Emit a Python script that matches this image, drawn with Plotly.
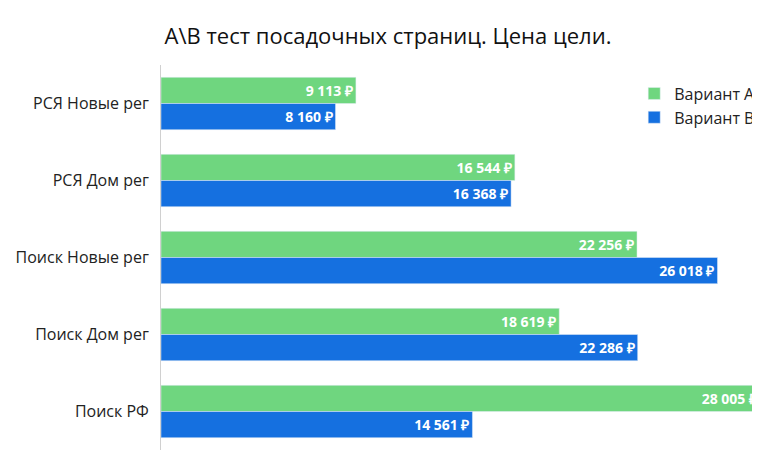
import plotly.graph_objects as go

categories = ["РСЯ Новые рег", "РСЯ Дом рег", "Поиск Новые рег", "Поиск Дом рег", "Поиск РФ"]
variant_a = [9113, 16544, 22256, 18619, 28005]
variant_b = [8160, 16368, 26018, 22286, 14561]


def rub(v):
    return "<b>" + f"{v:,}".replace(",", " ") + " ₽</b>"


fig = go.Figure()
fig.add_trace(go.Bar(y=categories, x=variant_a, name="Вариант А", orientation="h",
                     marker_color="#6fd67f", text=[rub(v) for v in variant_a],
                     textposition="inside", insidetextanchor="end",
                     textfont=dict(color="white", size=14, family="Open Sans")))
fig.add_trace(go.Bar(y=categories, x=variant_b, name="Вариант В", orientation="h",
                     marker_color="#1570e0", text=[rub(v) for v in variant_b],
                     textposition="inside", insidetextanchor="end",
                     textfont=dict(color="white", size=14, family="Open Sans")))

fig.update_layout(
    width=760, height=461,
    font=dict(family="Open Sans", size=16, color="#222"),
    title=dict(text="А\\В тест посадочных страниц. Цена цели.", x=0.5, xanchor="center",
               y=0.955, font=dict(size=22, color="#111")),
    barmode="group", bargap=0.32, bargroupgap=0,
    margin=dict(l=153, r=8, t=57, b=19),
    plot_bgcolor="white", paper_bgcolor="white",
    uniformtext=dict(minsize=10, mode="show"),
    legend=dict(x=0.79, y=0.97, xanchor="left", yanchor="top", traceorder="normal",
                font=dict(size=16), bgcolor="rgba(0,0,0,0)", tracegroupgap=12),
)
fig.update_yaxes(autorange="reversed", showline=True, linecolor="#d0d0d0", linewidth=1,
                 ticks="outside", ticklen=8, tickcolor="white", tickfont=dict(size=16),
                 automargin=False)
fig.update_xaxes(range=[0, 28005], visible=False, showgrid=False, automargin=False)

fig.write_html("out.html")
